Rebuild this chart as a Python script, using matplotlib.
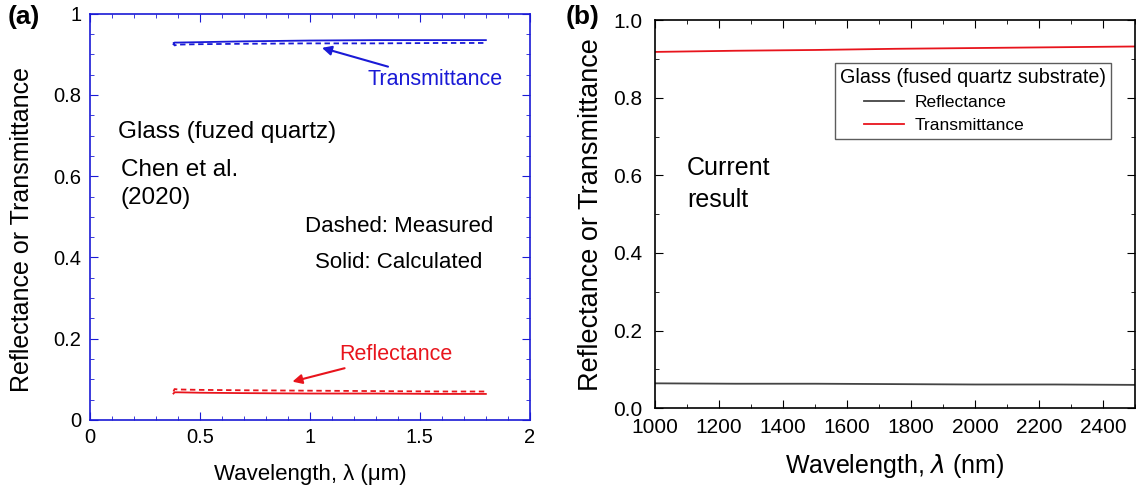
import matplotlib
matplotlib.use("Agg")
import matplotlib.pyplot as plt
from matplotlib.ticker import MultipleLocator, FuncFormatter
from matplotlib.legend_handler import HandlerLine2D
from matplotlib.lines import Line2D
import numpy as np

plt.rcParams['font.family'] = ['Liberation Sans', 'DejaVu Sans']

# (a) Chen et al. (2020), wavelength in um
wl_a = [0.38, 0.385, 0.40, 0.50, 0.70, 1.00, 1.30, 1.60, 1.80]
t_calc = [0.925, 0.929, 0.929, 0.930, 0.932, 0.934, 0.935, 0.935, 0.935]
t_meas = [0.930, 0.922, 0.924, 0.925, 0.926, 0.927, 0.927, 0.928, 0.928]
r_calc = [0.065, 0.068, 0.068, 0.067, 0.066, 0.065, 0.065, 0.064, 0.064]
r_meas = [0.070, 0.076, 0.075, 0.074, 0.073, 0.072, 0.071, 0.070, 0.070]

# (b) current result, wavelength in nm
wl_b = [1000, 1250, 1500, 1750, 2000, 2250, 2500]
t_cur = [0.918, 0.921, 0.923, 0.926, 0.928, 0.930, 0.932]
r_cur = [0.064, 0.063, 0.063, 0.062, 0.061, 0.061, 0.060]

blue = '#1a1ad6'
red = '#e8141c'


class IndentedLine(HandlerLine2D):
    # legend line drawn only over the right part of the handle box
    def create_artists(self, legend, orig_handle, xdescent, ydescent,
                       width, height, fontsize, trans):
        artists = super().create_artists(legend, orig_handle, xdescent, ydescent,
                                         width, height, fontsize, trans)
        for a in artists:
            if isinstance(a, Line2D):
                xd = np.asarray(a.get_xdata(), dtype=float)
                x0 = xd[0] + 0.37 * (xd[-1] - xd[0])
                a.set_xdata(np.linspace(x0, xd[-1], len(xd)))
        return artists


fig = plt.figure(figsize=(11.38, 4.9), dpi=100)
ax1 = fig.add_axes([0.079, 0.143, 0.3866, 0.829])
ax2 = fig.add_axes([0.5756, 0.167, 0.4218, 0.792])

# ---- left panel
ax1.plot(wl_a, t_calc, color=blue, lw=1.3)
ax1.plot(wl_a, t_meas, color=blue, lw=1.3, ls=(0, (3, 2)))
ax1.plot(wl_a, r_calc, color=red, lw=1.3)
ax1.plot(wl_a, r_meas, color=red, lw=1.3, ls=(0, (3, 2)))
ax1.set_xlim(0, 2)
ax1.set_ylim(0, 1)
ax1.xaxis.set_major_locator(MultipleLocator(0.5))
ax1.xaxis.set_minor_locator(MultipleLocator(0.1))
ax1.yaxis.set_major_locator(MultipleLocator(0.2))
ax1.yaxis.set_minor_locator(MultipleLocator(0.05))
ax1.xaxis.set_major_formatter(FuncFormatter(lambda v, p: f'{v:g}'))
ax1.yaxis.set_major_formatter(FuncFormatter(lambda v, p: f'{v:g}'))
for s in ax1.spines.values():
    s.set_color(blue)
    s.set_linewidth(1.2)
ax1.tick_params(which='both', direction='in', top=True, right=True,
                color=blue, labelsize=14.5, pad=6)
ax1.tick_params(which='major', length=6)
ax1.tick_params(which='minor', length=3)
ax1.set_xlabel('Wavelength, λ (μm)', fontsize=16, labelpad=12)
ax1.set_ylabel('Reflectance or Transmittance', fontsize=18, labelpad=14)
ax1.yaxis.label.set_y(0.47)

ax1.annotate('Transmittance', xy=(1.055, 0.916), xytext=(1.26, 0.837),
             color=blue, fontsize=15.5, va='center', ha='left',
             arrowprops=dict(arrowstyle='-|>', color=blue, lw=1.5,
                             shrinkA=0, shrinkB=0, mutation_scale=14))
ax1.annotate('Reflectance', xy=(0.89, 0.09), xytext=(1.135, 0.16),
             color=red, fontsize=15.5, va='center', ha='left',
             arrowprops=dict(arrowstyle='-|>', color=red, lw=1.5,
                             shrinkA=0, shrinkB=5, mutation_scale=14))
ax1.text(0.127, 0.709, 'Glass (fuzed quartz)', fontsize=17.5, va='center')
ax1.text(0.141, 0.616, 'Chen et al.', fontsize=17.5, va='center')
ax1.text(0.141, 0.547, '(2020)', fontsize=17.5, va='center')
ax1.text(1.832, 0.475, 'Dashed: Measured', fontsize=16, va='center', ha='right')
ax1.text(1.782, 0.387, 'Solid: Calculated', fontsize=16, va='center', ha='right')

# ---- right panel
ax2.plot(wl_b, r_cur, color='#444444', lw=1.3, label='Reflectance')
ax2.plot(wl_b, t_cur, color=red, lw=1.3, label='Transmittance')
ax2.set_xlim(1000, 2500)
ax2.set_ylim(0, 1)
ax2.xaxis.set_major_locator(MultipleLocator(200))
ax2.xaxis.set_minor_locator(MultipleLocator(100))
ax2.yaxis.set_major_locator(MultipleLocator(0.2))
ax2.yaxis.set_minor_locator(MultipleLocator(0.1))
ax2.yaxis.set_major_formatter(FuncFormatter(lambda v, p: f'{v:.1f}'))
for s in ax2.spines.values():
    s.set_linewidth(1.2)
ax2.tick_params(which='both', direction='in', top=True, right=True,
                labelsize=15)
ax2.tick_params(axis='x', pad=7)
ax2.tick_params(axis='y', pad=9)
ax2.tick_params(which='major', length=6)
ax2.tick_params(which='minor', length=3)
ax2.set_xlabel('Wavelength, $\\it{λ}$ (nm)', fontsize=18, labelpad=11)
ax2.set_ylabel('Reflectance or Transmittance', fontsize=19.5, labelpad=7)
leg = ax2.legend(title='Glass (fused quartz substrate)', loc='upper left',
                 bbox_to_anchor=(0.374, 0.89), fontsize=12.5, title_fontsize=14.2,
                 frameon=True, fancybox=False, edgecolor='#333333',
                 handlelength=3.7, borderpad=0.3, labelspacing=0.45,
                 handletextpad=0.6, borderaxespad=0,
                 handler_map={Line2D: IndentedLine()})
leg.get_frame().set_linewidth(1.0)
leg._legend_box.align = 'left'
leg._legend_box.sep = 6
ax2.text(1100, 0.619, 'Current', fontsize=18, va='center')
ax2.text(1100, 0.536, 'result', fontsize=18, va='center')

fig.text(0.007, 0.952, '(a)', fontsize=19, fontweight='bold')
fig.text(0.497, 0.952, '(b)', fontsize=19, fontweight='bold')

fig.savefig('out.png', dpi=100)
